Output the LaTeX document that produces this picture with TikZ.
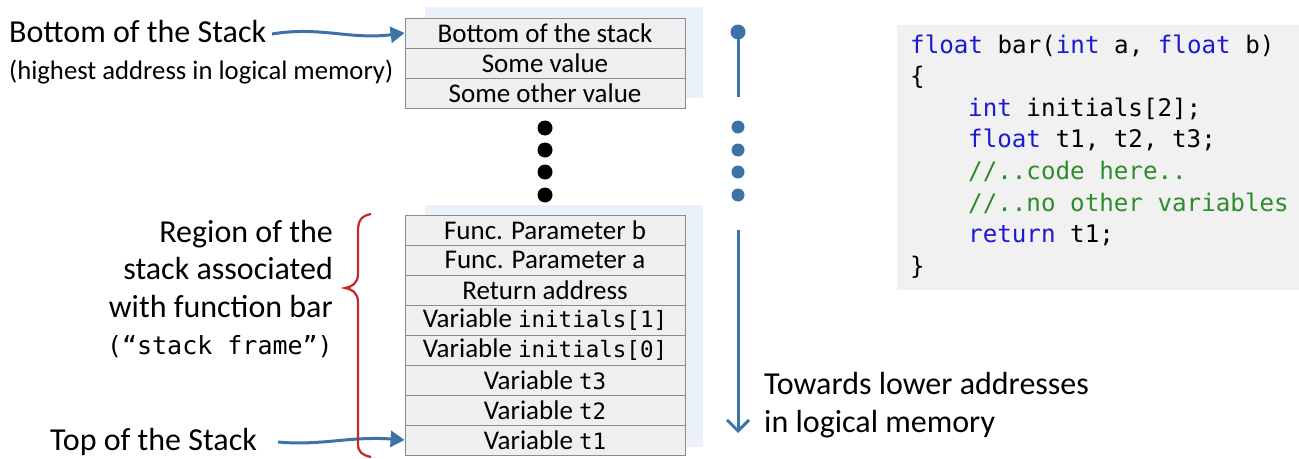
\documentclass[tikz,border=0pt]{standalone}
\usepackage{fontspec}
\setmainfont{Carlito}
\setmonofont{DejaVu Sans Mono}
\usetikzlibrary{arrows.meta}
\definecolor{arrowblue}{HTML}{3D72A6}
\definecolor{bracered}{HTML}{C0282E}
\definecolor{shadowblue}{HTML}{EAF1FA}
\definecolor{cellgray}{HTML}{EFEFEF}
\definecolor{cellborder}{HTML}{8C8C8C}
\definecolor{codebg}{HTML}{F1F1F1}
\definecolor{kwblue}{HTML}{1A1AD0}
\definecolor{cmtgreen}{HTML}{2E8B2E}
\newcommand{\kw}[1]{\textcolor{kwblue}{#1}}
\newcommand{\cmt}[1]{\textcolor{cmtgreen}{#1}}
\newcommand{\cm}[1]{{\ttfamily\fontsize{22.5}{26}\selectfont #1}}
\begin{document}
\begin{tikzpicture}[x=1pt,y=-1pt,
  cell/.style={draw=cellborder, line width=0.8pt, fill=cellgray, minimum width=280pt, minimum height=30pt, inner sep=0pt, font=\fontsize{27}{30}\selectfont},
  lbl/.style={inner sep=0pt, font=\fontsize{32}{37.5}\selectfont},
  small/.style={inner sep=0pt, font=\fontsize{26.7}{30}\selectfont},
  code/.style={inner sep=0pt, anchor=base west, font=\ttfamily\fontsize{24.2}{28}\selectfont},
  bdot/.style={circle, fill=black, minimum size=15pt, inner sep=0pt},
  udot/.style={circle, fill=arrowblue, minimum size=13pt, inner sep=0pt},
  bluearrow/.style={draw=arrowblue, line width=3pt, -{Triangle[length=14pt,width=16pt]}}
]
\useasboundingbox (0,0) rectangle (1299,458);
% shadows
\fill[shadowblue] (425,7) rectangle (703,98);
\fill[shadowblue] (425,205) rectangle (703,447);
% top table
\node[cell] (c1) at (545,33) {Bottom of the stack};
\node[cell] (c2) at (545,63) {Some value};
\node[cell] (c3) at (545,93) {Some other value};
% black dots
\node[bdot] (k1) at (545,128) {};
\node[bdot] (k2) at (545,150) {};
\node[bdot] (k3) at (545,172) {};
\node[bdot] (k4) at (545,195) {};
% bottom table
\node[cell] (f1) at (545,230) {Func. Parameter b};
\node[cell] (f2) at (545,260) {Func. Parameter a};
\node[cell] (f3) at (545,290) {Return address};
\node[cell] (f4) at (545,320) {Variable \cm{initials[1]}};
\node[cell] (f5) at (545,350) {Variable \cm{initials[0]}};
\node[cell] (f6) at (545,380) {Variable \cm{t3}};
\node[cell] (f7) at (545,410) {Variable \cm{t2}};
\node[cell] (f8) at (545,440) {Variable \cm{t1}};
% left labels
\node[lbl, anchor=west] (bos) at (9,32) {Bottom of the Stack};
\node[small, anchor=west] (hi) at (9,72) {(highest address in logical memory)};
\node[lbl, anchor=east, align=right] (reg) at (333,289) {Region of the\\stack associated\\with function bar\\\texttt{\fontsize{25}{37.5}\selectfont(“stack frame”)}};
\node[lbl, anchor=west] (tos) at (50,442) {Top of the Stack};
% arrows into table
\coordinate (a1s) at (272,34);
\coordinate (a2s) at (278,442);
\draw[bluearrow] (a1s) .. controls (320,26) and (350,40) .. (c1.west);
\draw[bluearrow] (a2s) .. controls (320,446) and (350,436) .. (f8.west);
% red brace
\draw[bracered, line width=2.2pt] (371,214) .. controls (360,216) and (358,222) .. (358,232)
  -- (358,274) .. controls (358,283) and (352,287) .. (345,288)
  .. controls (352,289) and (358,293) .. (358,302)
  -- (358,444) .. controls (358,452) and (362,455) .. (371,457);
% blue indicator
\node[udot, minimum size=15pt] (top) at (738,32) {};
\coordinate (topend) at (738,97);
\draw[arrowblue, line width=3pt] (top.center) -- (topend);
\node[udot] (u1) at (738,127) {};
\node[udot] (u2) at (738,150) {};
\node[udot] (u3) at (738,172) {};
\node[udot] (u4) at (738,195) {};
\coordinate (dstart) at (738,230);
\coordinate (dend) at (738,433);
\draw[arrowblue, line width=3pt, -{Straight Barb[length=11pt,width=22pt,line width=3pt]}] (dstart) -- (dend);
\node[lbl, anchor=west, align=left] (tow) at (764,405) {Towards lower addresses\\in logical memory};
% code
\fill[codebg] (897,25) rectangle (1299,290);
\node[code] (l1) at (910,53) {\kw{float} bar(\kw{int} a, \kw{float} b)};
\node[code] (l2) at (910,84.6) {\{};
\node[code] (l3) at (968,116.2) {\kw{int} initials[2];};
\node[code] (l4) at (968,147.8) {\kw{float} t1, t2, t3;};
\node[code] (l5) at (968,179.4) {\cmt{//..code here..}};
\node[code] (l6) at (968,211) {\cmt{//..no other variables}};
\node[code] (l7) at (968,242.6) {\kw{return} t1;};
\node[code] (l8) at (910,274.2) {\}};
\end{tikzpicture}
\end{document}
